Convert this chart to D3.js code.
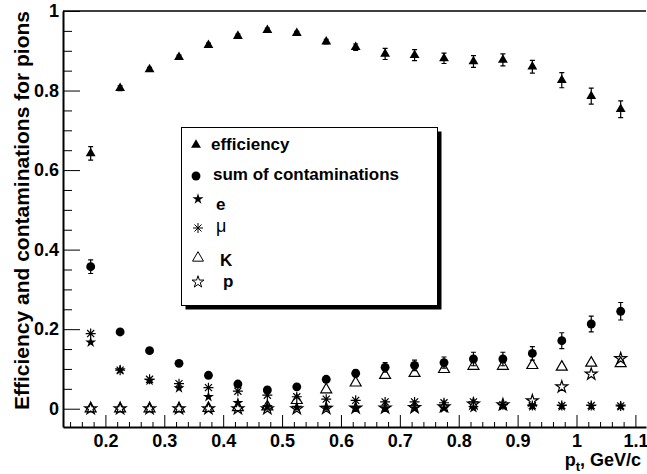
<!DOCTYPE html>
<head>
<meta charset="utf-8">
<title>Pion efficiency and contaminations</title>
<style>
body {
  margin: 0;
  background: #fff;
  font-family: "Liberation Sans", Arial, sans-serif;
}
.axis text {
  font-family: "Liberation Sans", Arial, sans-serif;
  font-weight: bold;
  font-size: 18px;
  fill: #000;
}
.axis path, .axis line {
  stroke: #000;
}
.leg text {
  font-weight: bold;
  font-size: 17px;
}
</style>
<script src="https://cdn.jsdelivr.net/npm/d3@7"></script>
</head>
<body>
<script>
// bin centres, GeV/c
var pt = [0.175, 0.225, 0.275, 0.325, 0.375, 0.425, 0.475, 0.525, 0.575, 0.625,
          0.675, 0.725, 0.775, 0.825, 0.875, 0.925, 0.975, 1.025, 1.075];

var eff    = [0.642, 0.806, 0.853, 0.884, 0.914, 0.937, 0.952, 0.944, 0.923, 0.909,
              0.892, 0.889, 0.881, 0.873, 0.877, 0.860, 0.826, 0.786, 0.753];
var effErr = [0.017, 0.006, 0.005, 0.005, 0.005, 0.005, 0.005, 0.005, 0.006, 0.008,
              0.014, 0.014, 0.013, 0.015, 0.015, 0.016, 0.019, 0.020, 0.021];

var sum    = [0.357, 0.193, 0.146, 0.114, 0.084, 0.062, 0.047, 0.055, 0.074, 0.089,
              0.104, 0.109, 0.116, 0.125, 0.125, 0.139, 0.171, 0.213, 0.245];
var sumErr = [0.017, 0.006, 0.005, 0.005, 0.005, 0.005, 0.005, 0.006, 0.007, 0.009,
              0.012, 0.013, 0.014, 0.017, 0.017, 0.017, 0.020, 0.020, 0.022];

var cE  = [0.167, 0.097, 0.071, 0.052, 0.030, 0.015, 0.005, 0.003, 0.003, 0.002,
           0.001, 0.001, 0.001, 0.002, 0.007, 0.006, 0.006, 0.006, 0.006];
var cMu = [0.189, 0.097, 0.074, 0.063, 0.053, 0.044, 0.034, 0.030, 0.024, 0.021,
           0.017, 0.017, 0.015, 0.017, 0.010, 0.008, 0.008, 0.008, 0.007];
var cK  = [0.000, 0.000, 0.000, 0.000, 0.001, 0.003, 0.005, 0.021, 0.048, 0.065,
           0.084, 0.089, 0.099, 0.107, 0.107, 0.109, 0.105, 0.115, 0.114];
var cP  = [0.000, 0.000, 0.000, 0.000, 0.000, 0.000, 0.000, 0.000, 0.001, 0.002,
           0.002, 0.003, 0.005, 0.012, 0.010, 0.020, 0.055, 0.087, 0.126];

var xTicks = [0.2, 0.3, 0.4, 0.5, 0.6, 0.7, 0.8, 0.9, 1, 1.1];
var yTicks = [0, 0.2, 0.4, 0.6, 0.8, 1];
var legendLabels = ["efficiency", "sum of contaminations", "e", "\u03bc", "K", "p"];

var width = 647, height = 474;

var x = d3.scaleLinear().domain([0.128, 1.118]).range([63, 646]);
var y = d3.scaleLinear().domain([-0.046, 1]).range([427, 11]);

var svg = d3.select("body").append("svg")
    .attr("width", width)
    .attr("height", height);

// frame top
svg.append("path")
    .attr("d", "M" + x.range()[0] + "," + y.range()[1] + "H" + x.range()[1])
    .attr("fill", "none").attr("stroke", "#000").attr("stroke-width", 1.5);

// minor ticks
var xMinor = d3.range(0.14, 1.111, 0.02).filter(function(v) {
  return Math.abs(v * 10 - Math.round(v * 10)) > 0.01;
});
var yMinor = d3.range(0, 1.001, 0.05).filter(function(v) {
  return Math.abs(v * 5 - Math.round(v * 5)) > 0.01;
});

svg.append("g").attr("class", "axis")
    .attr("transform", "translate(0," + y.range()[0] + ")")
    .call(d3.axisBottom(x).tickValues(xMinor).tickSize(-5).tickFormat(""))
    .select(".domain").remove();
svg.append("g").attr("class", "axis")
    .attr("transform", "translate(0," + y.range()[0] + ")")
    .call(d3.axisBottom(x).tickValues(xTicks).tickSizeInner(-12).tickSizeOuter(0)
          .tickPadding(7).tickFormat(d3.format("~g")))
    .call(function(g) { g.select(".domain").attr("stroke-width", 2); });

svg.append("g").attr("class", "axis")
    .attr("transform", "translate(" + x.range()[0] + ",0)")
    .call(d3.axisLeft(y).tickValues(yMinor).tickSize(-9).tickFormat(""))
    .select(".domain").remove();
svg.append("g").attr("class", "axis")
    .attr("transform", "translate(" + x.range()[0] + ",0)")
    .call(d3.axisLeft(y).tickValues(yTicks).tickSizeInner(-17).tickSizeOuter(0)
          .tickPadding(4).tickFormat(d3.format("~g")))
    .call(function(g) { g.select(".domain").attr("stroke-width", 2); });

// axis titles
svg.append("text")
    .attr("transform", "translate(29," + y(1) + ") rotate(-90)")
    .attr("text-anchor", "end")
    .style("font-weight", "bold").style("font-size", "21px")
    .text("Efficiency and contaminations  for pions");

var xt = svg.append("text")
    .attr("x", 641).attr("y", 466)
    .attr("text-anchor", "end")
    .style("font-weight", "bold").style("font-size", "18px");
xt.append("tspan").text("p");
xt.append("tspan").attr("dy", 5).style("font-size", "13px").text("t");
xt.append("tspan").attr("dy", -5).text(", GeV/c");

// markers
function asterisk(r) {
  var d = r * 0.7071;
  return "M" + (-r) + ",0H" + r + "M0," + (-r) + "V" + r +
         "M" + (-d) + "," + (-d) + "L" + d + "," + d +
         "M" + (-d) + "," + d + "L" + d + "," + (-d);
}
var markers = [
  { d: d3.symbol(d3.symbolTriangle, 42)(), fill: "#000", stroke: "none" },
  { d: d3.symbol(d3.symbolCircle, 62)(),   fill: "#000", stroke: "none" },
  { d: d3.symbol(d3.symbolStar, 38)(),     fill: "#000", stroke: "none" },
  { d: asterisk(5),                        fill: "none", stroke: "#000" },
  { d: d3.symbol(d3.symbolTriangle, 52)(), fill: "none", stroke: "#000" },
  { d: d3.symbol(d3.symbolStar, 44)(),     fill: "none", stroke: "#000" }
];

function errorBars(vals, errs) {
  var g = svg.append("g").attr("stroke", "#000").attr("stroke-width", 1.2);
  pt.forEach(function(p, i) {
    var x0 = x(p), y1 = y(vals[i] + errs[i]), y2 = y(vals[i] - errs[i]);
    g.append("path")
      .attr("d", "M" + x0 + "," + y1 + "V" + y2 +
                 "M" + (x0 - 2.5) + "," + y1 + "H" + (x0 + 2.5) +
                 "M" + (x0 - 2.5) + "," + y2 + "H" + (x0 + 2.5));
  });
}

function series(vals, m) {
  svg.append("g").selectAll("path")
    .data(vals)
    .enter().append("path")
    .attr("transform", function(d, i) { return "translate(" + x(pt[i]) + "," + y(d) + ")"; })
    .attr("d", m.d)
    .attr("fill", m.fill)
    .attr("stroke", m.stroke)
    .attr("stroke-width", 1.2);
}

errorBars(eff, effErr);
errorBars(sum, sumErr);
[eff, sum, cE, cMu, cK, cP].forEach(function(s, i) { series(s, markers[i]); });

// legend
var leg = svg.append("g").attr("class", "leg");
leg.append("rect").attr("x", 185.5).attr("y", 131.5).attr("width", 256).attr("height", 178).attr("fill", "#000");
leg.append("rect").attr("x", 181.5).attr("y", 127.5).attr("width", 256).attr("height", 178)
   .attr("fill", "#fff").attr("stroke", "#000").attr("stroke-width", 1);

var rowMarkY = [145, 176, 199, 228, 258, 282];
var rowTextX = [211, 213, 216, 216, 220, 223];
var rowTextY = [150, 180, 210, 232, 266, 287];

legendLabels.forEach(function(lab, i) {
  var m = markers[i];
  leg.append("path")
    .attr("transform", "translate(" + (i < 2 ? 196 : 198) + "," + rowMarkY[i] + ")")
    .attr("d", m.d).attr("fill", m.fill).attr("stroke", m.stroke).attr("stroke-width", 1);
  var t = leg.append("text").attr("x", rowTextX[i]).attr("y", rowTextY[i]).text(lab);
  if (i === 3) t.style("font-weight", "normal").style("font-size", "18px");
});
</script>
</body>
